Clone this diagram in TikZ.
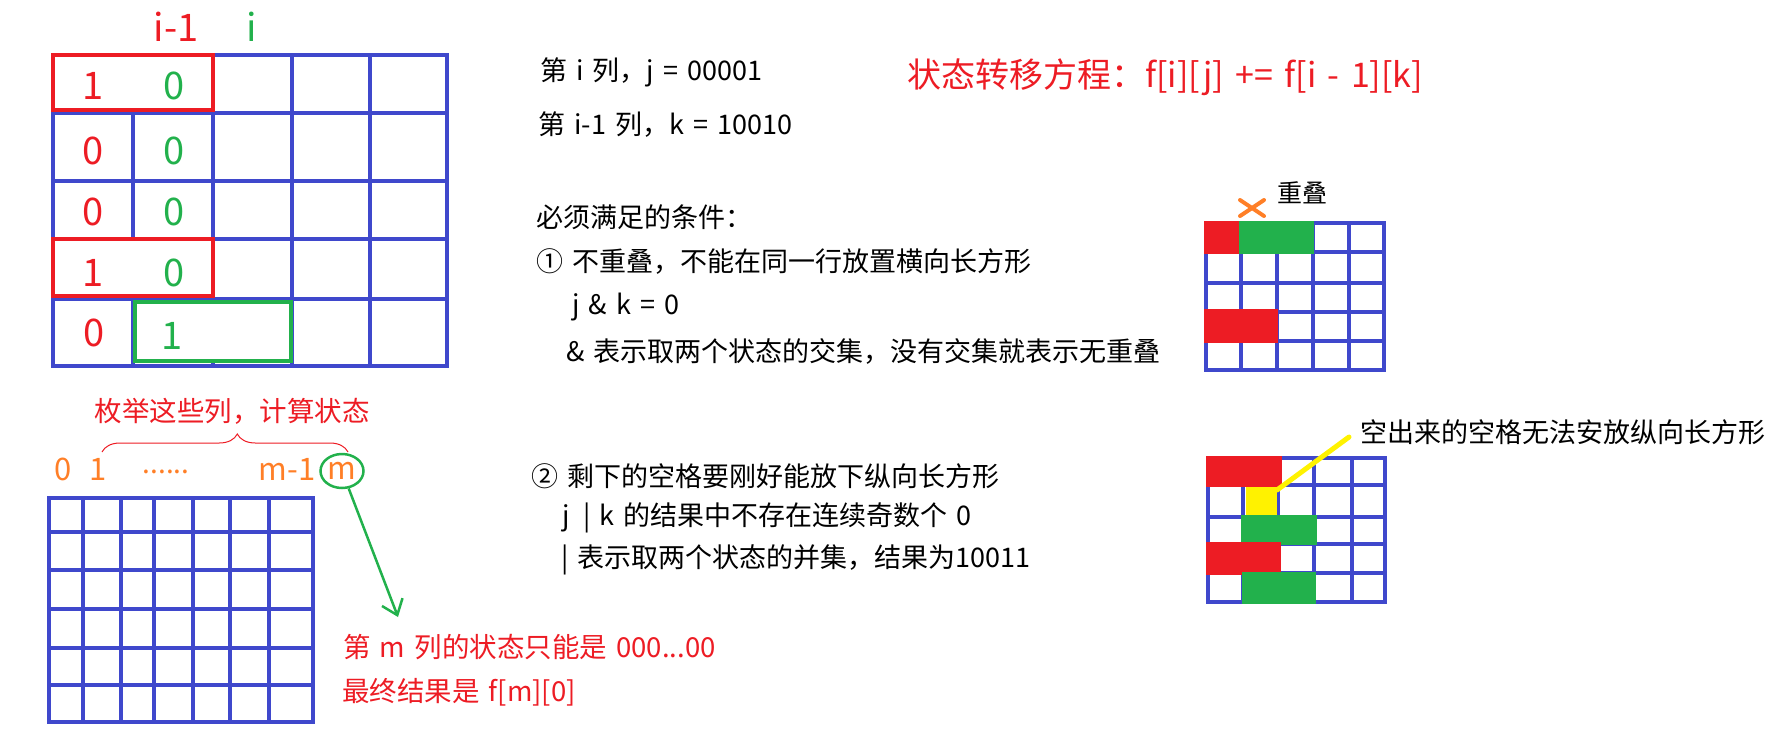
\documentclass[tikz,border=0pt]{standalone}
\usepackage{fontspec}
\setmainfont[WordSpace=1.5]{Noto Sans CJK SC}
\usetikzlibrary{arrows.meta,decorations.pathreplacing,shapes.geometric}
\definecolor{pblue}{RGB}{63,72,204}
\definecolor{pred}{RGB}{237,28,36}
\definecolor{pgreen}{RGB}{34,177,76}
\definecolor{porange}{RGB}{255,127,39}
\definecolor{pyellow}{RGB}{255,242,0}
\newcommand\fsz[1]{\fontsize{#1}{#1}\selectfont}

\begin{document}
\begin{tikzpicture}[x=1pt,y=-1pt,
  gridline/.style={pblue,line width=4pt,line cap=rect},
  smallgrid/.style={pblue,line width=3.5pt,line cap=rect},
  digit/.style={inner sep=0pt,font=\fsz{38}},
  colnum/.style={inner sep=0pt,text=porange,font=\fsz{31}},
  txt/.style={anchor=west,inner sep=0pt,font=\fsz{27}},
  note/.style={anchor=west,inner sep=0pt,text=pred,font=\fsz{27.5}},
  pick/.style={line width=4pt,fill=white}]
  \useasboundingbox (0,0) rectangle (1776,736);

  % column i-1 and column i of the board
  \foreach \x in {53,133,213,292,370,447} \draw[gridline] (\x,55) -- (\x,366);
  \foreach \y in {55,113,181,239,299,366} \draw[gridline] (53,\y) -- (447,\y);
  \draw[pick,draw=pred] (53,55) rectangle (213,110);
  \draw[pick,draw=pred] (53,239) rectangle (213,296);
  \draw[pick,draw=pgreen] (135,302) rectangle (291,361);
  \node[digit,text=pred] (lprev) at (176,27) {i-1};
  \node[digit,text=pgreen] (lcur) at (252,27) {i};
  \foreach \n/\y/\v/\w in {1/86/1/0,2/151/0/0,3/212/0/0,4/273/1/0}{
    \node[digit,text=pred] (k\n) at (93,\y) {\v};
    \node[digit,text=pgreen] (j\n) at (174,\y) {\w};}
  \node[digit,text=pred] (k5) at (94,333) {0};
  \node[digit,text=pgreen] (j5) at (172,336) {1};

  % explanation
  \node[txt] (colj) at (540,72) {第 i 列，j = 00001};
  \node[txt] (colk) at (538,125) {第 i-1 列，k = 10010};
  \node[txt,text=pred,font=\fsz{34}] (eq) at (907,77) {状态转移方程：f[i][j] += f[i - 1][k]};
  \node[txt] (cond) at (536,217) {必须满足的条件：};
  \node[txt] (c1) at (536,262) {① 不重叠，不能在同一行放置横向长方形};
  \node[txt] (c1a) at (572,307) {j \& k = 0};
  \node[txt] (c1b) at (566,351) {\& 表示取两个状态的交集，没有交集就表示无重叠};
  \node[txt] (c2) at (531,476) {② 剩下的空格要刚好能放下纵向长方形};
  \node[txt] (c2a) at (562,518) {j \,| k 的结果中不存在连续奇数个 0};
  \node[txt] (c2b) at (561,560) {| 表示取两个状态的并集，结果为10011};

  % whole board, columns 0..m
  \foreach \x in {49,83,121,154,193,230,269,313} \draw[gridline] (\x,498) -- (\x,722);
  \foreach \y in {498,532,570,609,648,685,722} \draw[gridline] (49,\y) -- (313,\y);
  \node[colnum] (c0) at (63,469) {0};
  \node[colnum] (c1n) at (98,469) {1};
  \node[colnum,font=\fsz{28}] (cdots) at (166,472) {......};
  \node[colnum] (cm1) at (287,469) {m-1};
  \node[colnum,ellipse,draw=pgreen,line width=2.5pt,minimum width=43pt,
    minimum height=34pt] (cm) at (342,471) {m};
  \draw[pred,line width=1pt,decorate,
    decoration={brace,amplitude=18pt,aspect=0.55}] (102,452) -- (348,452);
  \node[note,anchor=center] (enum) at (232,411) {枚举这些列，计算状态};
  \coordinate (tip) at (398,617);
  \draw[pgreen,line width=2.5pt,-{Straight Barb[length=14pt,width=22pt]}] (cm) -- (tip);
  \node[note] (res1) at (343,647) {第 m 列的状态只能是 000...00};
  \node[note] (res2) at (342,692) {最终结果是 f[m][0]};

  % overlap example
  \foreach \x in {1206,1241,1277,1313,1349,1384} \draw[smallgrid] (\x,223) -- (\x,370);
  \foreach \y in {223,252,283,312,341,370} \draw[smallgrid] (1206,\y) -- (1384,\y);
  \fill[pred] (1204,221) rectangle (1239,254);
  \fill[pgreen] (1239,221) rectangle (1314,254);
  \fill[pred] (1204,309) rectangle (1278,343);
  \draw[porange,line width=4pt,line cap=round] (1240,200) -- (1264,216)
    (1240,216) -- (1264,200);
  \node[txt,anchor=center,font=\fsz{25}] (ovl) at (1302,193) {重叠};

  % gap that no vertical piece can fill
  \foreach \x in {1208,1243,1278,1314,1352,1385} \draw[smallgrid] (\x,458) -- (\x,602);
  \foreach \y in {458,485,517,544,573,602} \draw[smallgrid] (1208,\y) -- (1385,\y);
  \fill[pred] (1206,456) rectangle (1282,487);
  \fill[pyellow] (1246,487) rectangle (1277,515);
  \fill[pgreen] (1241,515) rectangle (1317,545);
  \fill[pred] (1206,542) rectangle (1281,575);
  \fill[pgreen] (1242,572) rectangle (1316,604);
  \coordinate (gap) at (1277,490);
  \node[txt,font=\fsz{27}] (gapnote) at (1360,432) {空出来的空格无法安放纵向长方形};
  \draw[pyellow,line width=5pt,line cap=round] (gap) -- ([shift={(-11pt,-5pt)}]gapnote.west);
\end{tikzpicture}
\end{document}
